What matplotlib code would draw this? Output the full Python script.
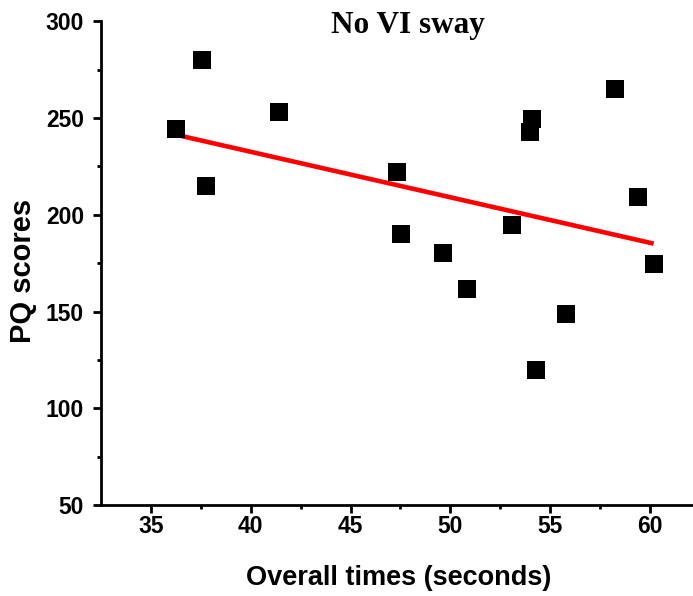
import matplotlib
matplotlib.use("Agg")
import matplotlib.pyplot as plt
import numpy as np

times = [36.25, 37.56, 37.76, 41.41, 47.3, 47.55, 49.63, 50.85, 53.1,
         54.09, 53.99, 58.23, 59.41, 60.18, 55.79, 54.29]
pq = [244.2, 279.9, 214.9, 253.3, 222.3, 190.0, 180.2, 161.6, 194.6,
      249.4, 242.7, 264.9, 209.4, 174.5, 148.7, 120.0]
title = "No VI sway"
xlabel = "Overall times (seconds)"
ylabel = "PQ scores"

W, H = 693, 596
fig = plt.figure(figsize=(W / 100, H / 100), dpi=100)
ax = fig.add_axes([101 / W, 1 - 505 / H, 1 - 101 / W, (505 - 21.3) / H])

ax.scatter(times, pq, marker="s", s=17 ** 2 * 0.52, color="black", zorder=3, linewidths=0)

slope, inter = np.polyfit(times, pq, 1)
xs = np.array([min(times), max(times)])
ax.plot(xs, slope * xs + inter, color="red", lw=3.3, zorder=2, solid_capstyle="butt")

ax.set_xlim(32.5, 62.15)
ax.set_ylim(50, 300)
ax.set_xticks([35, 40, 45, 50, 55, 60])
ax.set_yticks([50, 100, 150, 200, 250, 300])
ax.set_xticks(np.arange(37.5, 62.5, 5), minor=True)
ax.set_yticks(np.arange(75, 300, 50), minor=True)

for s in ["top", "right"]:
    ax.spines[s].set_visible(False)
for s in ["left", "bottom"]:
    ax.spines[s].set_linewidth(2)

ax.tick_params(which="major", direction="out", length=5.8, width=2, labelsize=16.5)
ax.tick_params(which="minor", direction="out", length=3, width=2)
ax.tick_params(axis="x", which="major", pad=1.5)
ax.tick_params(axis="y", which="major", pad=6.5)
for lab in ax.get_xticklabels() + ax.get_yticklabels():
    lab.set_fontfamily("Liberation Sans")
    lab.set_fontweight("bold")

fig.text(399 / W, 1 - 585 / H, xlabel, ha="center", va="baseline", fontsize=19.5,
         fontweight="bold", family="Liberation Sans")
fig.text(23 / W, 1 - 271 / H, ylabel, ha="center", va="center", rotation=90,
         fontsize=21, fontweight="bold", family="Liberation Sans")

fig.text(408 / W, 1 - 33.5 / H, title, ha="center", va="baseline", fontsize=22.5,
         fontweight="bold", family="Liberation Serif")

fig.savefig("out.png", dpi=100)
